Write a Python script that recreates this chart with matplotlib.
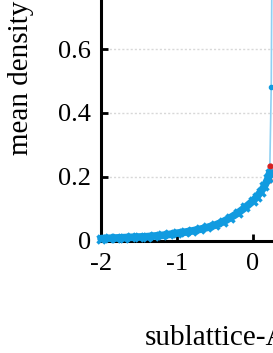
import matplotlib
matplotlib.use("Agg")
import matplotlib.pyplot as plt
from matplotlib.ticker import FormatStrFormatter

plt.rcParams["font.family"] = ["Liberation Serif", "DejaVu Serif"]
plt.rcParams["axes.unicode_minus"] = False

# sublattice-A sweep (blue)
blue_x = [-2.00, -1.90, -1.80, -1.70, -1.60, -1.50, -1.40, -1.30, -1.20, -1.10,
          -1.00, -0.90, -0.80, -0.70, -0.60, -0.50, -0.40, -0.30, -0.20, -0.10,
          0.00, 0.05, 0.10, 0.15, 0.20, 0.22]
blue_y = [0.006, 0.007, 0.008, 0.009, 0.010, 0.011, 0.012, 0.014, 0.016, 0.019,
          0.023, 0.026, 0.030, 0.035, 0.041, 0.048, 0.058, 0.071, 0.086, 0.104,
          0.124, 0.137, 0.152, 0.170, 0.195, 0.212]
# peak just past the crop
spike_x = [0.22, 0.24, 0.25]
spike_y = [0.212, 0.48, 0.90]
# second series (red), barely visible at the right edge
red_x = [0.21, 0.22, 0.23]
red_y = [0.19, 0.215, 0.235]

yticks = [0, 0.2, 0.4, 0.6, 0.8]
xticks = [-2, -1, 0]

W, H = 273, 353
fig = plt.figure(figsize=(W / 100, H / 100), dpi=100)
ax = fig.add_axes([101 / W, (H - 240.5) / H, 304 / W, 319 / H])

blue = "#119be0"
ax.plot(spike_x, spike_y, color="#8fd0f2", lw=1.2, zorder=2)
ax.plot(spike_x[1:2], spike_y[1:2], "o", color=blue, ms=3, zorder=3)
ax.plot(red_x, red_y, "o", color="#d62020", ms=3.5, zorder=2)
ax.plot(blue_x, blue_y, color=blue, lw=5.5, marker="x", ms=6, mew=2.5,
        solid_capstyle="round", zorder=4, clip_on=False)

ax.set_xlim(-2, 2)
ax.set_ylim(0, 1)
ax.set_xticks(xticks)
ax.set_yticks(yticks)
ax.yaxis.set_major_formatter(FormatStrFormatter("%g"))
ax.xaxis.set_major_formatter(FormatStrFormatter("%g"))
ax.tick_params(direction="in", length=5, width=2, labelsize=19)
ax.tick_params(axis="x", pad=9)
ax.tick_params(axis="y", pad=7)
ax.grid(axis="y", color="#d8d8d8", ls=(0, (1.5, 1.5)), lw=1)
for s in ax.spines.values():
    s.set_linewidth(2.2)
ax.set_axisbelow(True)

fig.text(8 / W, (H - 155) / H, "mean density", rotation=90, fontsize=21,
         ha="left", va="bottom")
fig.text(145 / W, (H - 345) / H, "sublattice-A", fontsize=21,
         ha="left", va="baseline")

fig.savefig("out.png", dpi=100)
